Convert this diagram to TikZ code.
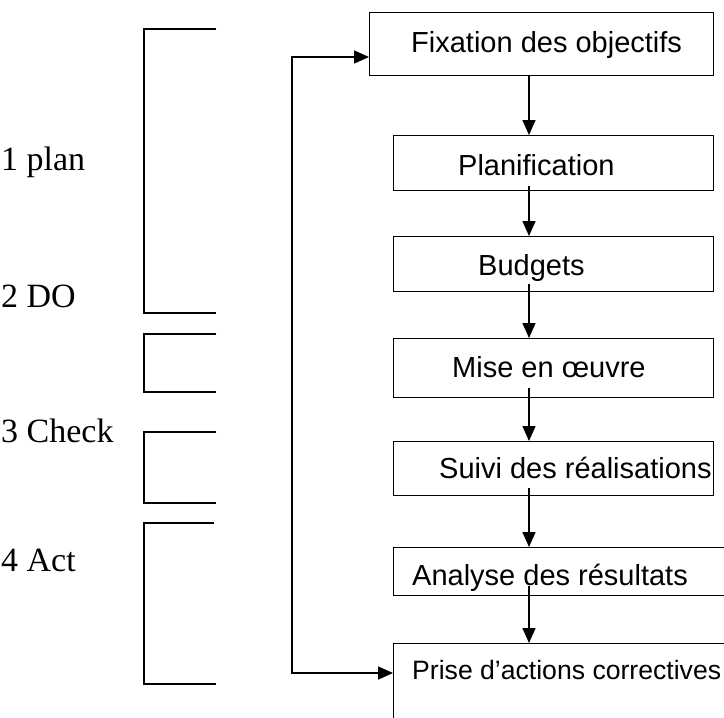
\documentclass[tikz,border=0pt]{standalone}
\usepackage{fontspec}
\setmainfont{Liberation Serif}
\newfontfamily\boxfont{Liberation Sans}
\usetikzlibrary{arrows.meta}

\tikzset{
  stepbox/.style={draw, line width=1.4pt, inner sep=0pt, anchor=north west},
  steptext/.style={font=\boxfont\fontsize{29}{34}\selectfont, inner sep=0pt, anchor=base west},
  phase/.style={font=\fontsize{34}{40}\selectfont, inner sep=0pt, anchor=base west},
  bracket/.style={line width=1.3pt},
  flow/.style={line width=1.6pt, -{Triangle[length=15pt,width=13pt]}},
  loopback/.style={line width=1.6pt, {Triangle[length=15pt,width=13pt]}-{Triangle[length=15pt,width=13pt]}}
}

\begin{document}
\begin{tikzpicture}[x=1pt, y=-1pt]
\useasboundingbox (0,0) rectangle (724,718);
\clip (0,0) rectangle (724,718);

% Phase labels
\node[phase] (p1) at (1,170) {1 plan};
\node[phase] (p2) at (1,307) {2 DO};
\node[phase] (p3) at (1,442) {3 Check};
\node[phase] (p4) at (1,571) {4 Act};

% Brackets grouping the steps
\draw[bracket] (216,29)  -| (144,313) -- (216,313);
\draw[bracket] (216,334) -| (144,392) -- (216,392);
\draw[bracket] (216,432) -| (144,503) -- (216,503);
\draw[bracket] (214,523) -| (144,684) -- (216,684);

% Process boxes
\node[stepbox, minimum width=344pt, minimum height=63pt] (b1) at (369,12)  {};
\node[stepbox, minimum width=320pt, minimum height=55pt] (b2) at (393,135) {};
\node[stepbox, minimum width=320pt, minimum height=55pt] (b3) at (393,236) {};
\node[stepbox, minimum width=320pt, minimum height=59pt] (b4) at (393,338) {};
\node[stepbox, minimum width=320pt, minimum height=54pt] (b5) at (393,441) {};
\node[stepbox, minimum width=340pt, minimum height=48pt] (b6) at (393,547) {};
\node[stepbox, minimum width=340pt, minimum height=100pt] (b7) at (393,643) {};

% Box texts
\node[steptext] (t1) at (411,52)  {Fixation des objectifs};
\node[steptext] (t2) at (458,175) {Planification};
\node[steptext] (t3) at (478,275) {Budgets};
\node[steptext] (t4) at (452,377) {Mise en œuvre};
\node[steptext] (t5) at (439,478) {Suivi des réalisations};
\node[steptext] (t6) at (412,585) {Analyse des résultats};
\node[steptext, font=\boxfont\fontsize{26.6}{32}\selectfont] (t7) at (412,679) {Prise d’actions correctives};

% Vertical flow
\coordinate (ax) at (529,0);
\draw[flow] (b1.south -| ax) -- (b2.north -| ax);
\draw[flow] ([yshift=5pt]b2.south -| ax) -- (b3.north -| ax);
\draw[flow] ([yshift=8pt]b3.south -| ax) -- (b4.north -| ax);
\draw[flow] ([yshift=10pt]b4.south -| ax) -- (b5.north -| ax);
\draw[flow] ([yshift=8pt]b5.south -| ax) -- (b6.north -| ax);
\draw[flow] ([yshift=10pt]b6.south -| ax) -- (b7.north -| ax);

% Feedback loop from corrective actions back to objectives
\coordinate (lx) at (292,0);
\draw[loopback] (b1.west |- 0,57) -| (lx |- 0,673) -- (b7.west |- 0,673);
\end{tikzpicture}
\end{document}
